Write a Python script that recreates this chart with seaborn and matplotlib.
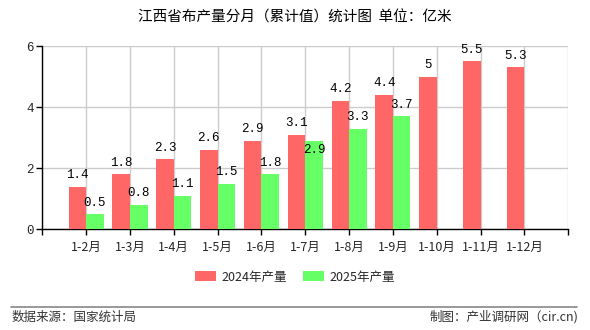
import matplotlib
matplotlib.use("Agg")
import matplotlib.pyplot as plt
import seaborn as sns
import pandas as pd
import numpy as np
from matplotlib.patches import Patch
from matplotlib.lines import Line2D

categories = ["1-2月", "1-3月", "1-4月", "1-5月", "1-6月", "1-7月", "1-8月", "1-9月", "1-10月", "1-11月", "1-12月"]
values_2024 = [1.4, 1.8, 2.3, 2.6, 2.9, 3.1, 4.2, 4.4, 5.0, 5.5, 5.3]
values_2025 = [0.5, 0.8, 1.1, 1.5, 1.8, 2.9, 3.3, 3.7, None, None, None]
series_names = ["2024年产量", "2025年产量"]
title = "江西省布产量分月（累计值）统计图  单位：亿米"
source_text = "数据来源：国家统计局"
credit_text = "制图：产业调研网（cir.cn)"
y_ticks = [0, 2, 4, 6]

colors = ["#ff6666", "#66ff66"]

rows = []
for c, v in zip(categories, values_2024):
    rows.append({"cat": c, "series": series_names[0], "val": v})
for c, v in zip(categories, values_2025):
    rows.append({"cat": c, "series": series_names[1], "val": np.nan if v is None else v})
df = pd.DataFrame(rows)

sns.set_theme(style="white")
plt.rcParams["font.family"] = ["Noto Sans CJK SC", "DejaVu Sans"]

fig = plt.figure(figsize=(5.9, 3.3), dpi=100)
ax = fig.add_axes([0.0717, 0.305, 0.8915, 0.5556])

sns.barplot(data=df, x="cat", y="val", hue="series", order=categories,
            hue_order=series_names, palette=colors, width=0.8, saturation=1,
            ax=ax, legend=False, zorder=3, linewidth=0, edgecolor="none")

n = len(categories)
ax.set_xlim(-1, n)
ax.set_ylim(0, 6)
ax.set_xticks(range(-1, n + 1))
ax.set_xticklabels([""] + categories + [""], fontsize=9)
ax.set_yticks(y_ticks)
ax.set_yticklabels([str(t) for t in y_ticks], fontsize=9, family=["Liberation Mono", "DejaVu Sans"])
ax.set_xlabel("")
ax.set_ylabel("")
ax.grid(True, color="#cccccc", linewidth=1, zorder=0)
ax.set_axisbelow(True)
for s in ["top", "right"]:
    ax.spines[s].set_visible(False)
for s in ["left", "bottom"]:
    ax.spines[s].set_color("black")
    ax.spines[s].set_linewidth(1)
ax.tick_params(axis="both", which="both", length=4, width=1, color="black",
               direction="out", pad=2, left=True, bottom=True)
ax.tick_params(axis="x", pad=4)

# value labels
label_font = dict(fontsize=9, family=["Liberation Mono", "DejaVu Sans"], color="black")
for i, v in enumerate(values_2024):
    ax.annotate(f"{v:g}", (i - 0.2, v), xytext=(0, 4), textcoords="offset points",
                ha="center", va="bottom", zorder=5, **label_font)
for i, v in enumerate(values_2025):
    if v is None:
        continue
    if abs(v - values_2024[i]) < 0.35:
        ax.annotate(f"{v:g}", (i + 0.2, v), xytext=(0, -2), textcoords="offset points",
                    ha="center", va="top", zorder=5, **label_font)
    else:
        ax.annotate(f"{v:g}", (i + 0.2, v), xytext=(0, 4), textcoords="offset points",
                    ha="center", va="bottom", zorder=5, **label_font)

fig.text(0.5, 1 - 18 / 330, title, ha="center", va="center", fontsize=10.5, color="black")

handles = [Patch(facecolor=colors[0], edgecolor="none"), Patch(facecolor=colors[1], edgecolor="none")]
fig.legend(handles, series_names, loc="center", bbox_to_anchor=(0.5, 1 - 277 / 330), ncol=2,
           frameon=False, fontsize=9, handlelength=1.7, handleheight=0.9, columnspacing=1.3,
           handletextpad=0.4)

fig.add_artist(Line2D([11 / 590, 577 / 590], [1 - 307 / 330, 1 - 307 / 330],
                      color="#888888", linewidth=1.2, transform=fig.transFigure))
fig.text(12 / 590, 1 - 317 / 330, source_text, ha="left", va="center", fontsize=9, color="#333333")
fig.text(578 / 590, 1 - 317 / 330, credit_text, ha="right", va="center", fontsize=9, color="#333333")

fig.savefig("out.png", dpi=100)
